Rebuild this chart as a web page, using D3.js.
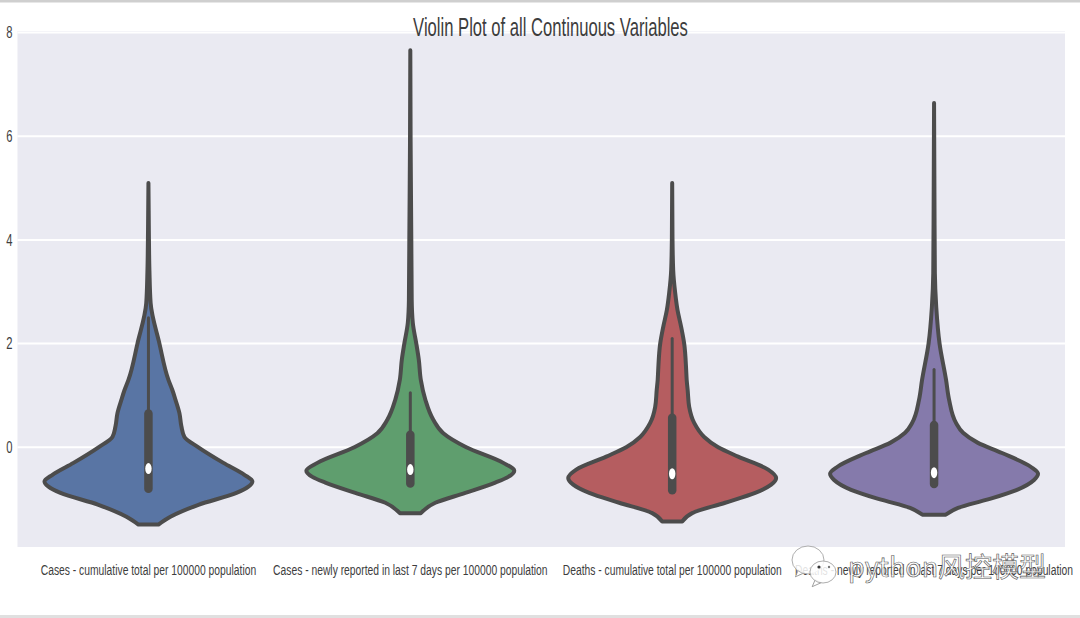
<!DOCTYPE html>
<html>
<head>
<meta charset="utf-8">
<script src="https://cdn.jsdelivr.net/npm/d3@7"></script>
<style>
  html, body { margin: 0; padding: 0; background: #fff; overflow: hidden; }
  svg { display: block; font-family: "Liberation Sans", Arial, sans-serif; }
</style>
</head>
<body>
<script>
const categories = [
  'Cases - cumulative total per 100000 population',
  'Cases - newly reported in last 7 days per 100000 population',
  'Deaths - cumulative total per 100000 population',
  'Deaths - newly reported in last 7 days per 100000 population'
]
const yTicks = [0, 2, 4, 6, 8]
const fills = ['#5975a4', '#5f9e6e', '#b55d60', '#857aab']

// violin outlines: value, and half width of the density
const casesTotalV = [-1.49, -1.34, -1.11, -0.88, -0.76, -0.66, -0.53, -0.30, 0, 0.20, 0.40, 0.66, 0.92, 1.1, 1.3, 2.0, 2.78, 3.4, 4.2, 5.1]
const casesTotalW = [10, 22, 50, 88, 100, 104, 96, 75, 50, 36, 33, 31, 27, 24, 20, 11, 2.2, 1, 0.4, 0]
const casesWeekV = [-1.27, -1.07, -0.88, -0.68, -0.57, -0.45, -0.30, 0, 0.27, 0.53, 0.92, 1.3, 1.69, 2.0, 2.4, 2.84, 4.0, 5.9, 7.66]
const casesWeekW = [10.5, 25, 55, 85, 98, 104, 93, 56, 33, 23, 15, 10.5, 8.5, 6, 2.5, 1.4, 1, 0.3, 0]
const deathsTotalV = [-1.43, -1.27, -1.07, -0.88, -0.72, -0.59, -0.43, -0.18, 0, 0.20, 0.47, 0.78, 1.1, 1.3, 1.49, 2.0, 2.32, 2.65, 2.98, 3.42, 4.05, 5.1]
const deathsTotalW = [10, 20, 53, 83, 99, 104, 96, 66, 46, 32, 22, 17, 15.5, 14.5, 14, 12, 9, 5.3, 3, 1, 0.3, 0]
const deathsWeekV = [-1.3, -1.17, -1.01, -0.82, -0.63, -0.51, -0.38, -0.11, 0.09, 0.28, 0.47, 0.92, 1.3, 2.0, 2.7, 3.36, 4.3, 6.64]
const deathsWeekW = [11.7, 24, 53, 83, 100, 104, 97, 68, 43.5, 29, 22, 15, 12, 5.5, 2.2, 0.8, 0.5, 0]

const densityV = [casesTotalV, casesWeekV, deathsTotalV, deathsWeekV]
const densityW = [casesTotalW, casesWeekW, deathsTotalW, deathsWeekW]

const whiskerTop = [2.5, 1.05, 2.1, 1.5]
const q3 = [0.65, 0.24, 0.57, 0.43]
const q1 = [-0.8, -0.7, -0.83, -0.71]
const medians = [-0.41, -0.43, -0.51, -0.49]

const width = 1080
const height = 618
const margin = { left: 17.5, top: 31, right: 15, bottom: 71 }
const lineColor = '#4c4c4c'
const textColor = '#3d3d3d'

const svg = d3.select('body').append('svg')
  .attr('width', width)
  .attr('height', height)

const xScale = d3.scaleBand()
  .domain(categories)
  .range([margin.left, width - margin.right])

const yScale = d3.scaleLinear()
  .domain([-1.923, 8.03])
  .range([height - margin.bottom, margin.top])

const wScale = d3.scaleLinear()
  .domain([0, 104])
  .range([0, xScale.bandwidth() * 0.397])

// page edges of the screenshot
svg.append('rect').attr('width', width).attr('height', 2.5).attr('fill', '#cfcfcf')
svg.append('rect').attr('y', height - 3).attr('width', width).attr('height', 3).attr('fill', '#e0e0e0')

// Plot background
svg.append('rect')
  .attr('x', margin.left)
  .attr('y', margin.top)
  .attr('width', width - margin.left - margin.right)
  .attr('height', height - margin.top - margin.bottom)
  .attr('fill', '#eaeaf2')

// Gridlines, then the y axis without its line
svg.append('g')
  .selectAll('line')
  .data(yTicks)
  .enter()
  .append('line')
    .attr('x1', margin.left)
    .attr('x2', width - margin.right)
    .attr('y1', d => yScale(d))
    .attr('y2', d => yScale(d))
    .attr('stroke', '#fff')
    .attr('stroke-width', 2)

// Squeeze text horizontally, the picture is stretched
const squeeze = (sel, k) => sel.each(function() {
  this.setAttribute('textLength', this.getComputedTextLength() * k)
  this.setAttribute('lengthAdjust', 'spacingAndGlyphs')
})

const yAxis = svg.append('g')
  .attr('transform', `translate(${margin.left},0)`)
  .call(d3.axisLeft(yScale).tickValues(yTicks).tickSize(0).tickPadding(5))
yAxis.select('.domain').remove()
yAxis.selectAll('text')
  .attr('font-size', 16.5)
  .attr('font-family', '"Liberation Sans", Arial, sans-serif')
  .attr('fill', textColor)
  .call(squeeze, 0.68)

const xAxis = svg.append('g')
  .attr('transform', `translate(0,${height - margin.bottom})`)
  .call(d3.axisBottom(xScale).tickSize(0).tickPadding(17))
xAxis.select('.domain').remove()
xAxis.selectAll('text')
  .attr('font-size', 15.5)
  .attr('font-family', '"Liberation Sans", Arial, sans-serif')
  .attr('fill', textColor)
  .call(squeeze, 0.665)

// Violins
const area = d3.area()
  .x0(d => -wScale(d.w))
  .x1(d => wScale(d.w))
  .y(d => yScale(d.v))
  .curve(d3.curveMonotoneY)

categories.forEach((category, i) => {
  const g = svg.append('g')
    .attr('transform', `translate(${xScale(category) + xScale.bandwidth() / 2},0)`)
  const outline = densityV[i].map((v, j) => ({ v, w: densityW[i][j] }))

  g.append('path')
    .attr('d', area(outline))
    .attr('fill', fills[i])
    .attr('stroke', lineColor)
    .attr('stroke-width', 4)
    .attr('stroke-linejoin', 'round')

  g.append('line')
    .attr('y1', yScale(whiskerTop[i]))
    .attr('y2', yScale(q3[i]))
    .attr('stroke', lineColor)
    .attr('stroke-width', 3)
    .attr('stroke-linecap', 'round')

  g.append('line')
    .attr('y1', yScale(q3[i]))
    .attr('y2', yScale(q1[i]))
    .attr('stroke', lineColor)
    .attr('stroke-width', 8.5)
    .attr('stroke-linecap', 'round')

  g.append('ellipse')
    .attr('cy', yScale(medians[i]))
    .attr('rx', 3.2)
    .attr('ry', 5.5)
    .attr('fill', '#fff')
})

// Title
svg.append('text')
  .attr('x', 550.5)
  .attr('y', 36)
  .attr('text-anchor', 'middle')
  .attr('font-size', 25)
  .attr('fill', textColor)
  .text('Violin Plot of all Continuous Variables')
  .call(squeeze, 0.665)

// Watermark over the last label
const mark = svg.append('g')
const bubble = (cx, cy, rx, ry) => {
  mark.append('path')
    .attr('d', `M${cx - rx * 0.6},${cy + ry * 0.7} l-3,7 l9,-4 Z`)
    .attr('fill', '#fff').attr('stroke', '#888').attr('stroke-width', 0.8)
  mark.append('ellipse')
    .attr('cx', cx).attr('cy', cy).attr('rx', rx).attr('ry', ry)
    .attr('fill', '#fff').attr('fill-opacity', 0.85)
    .attr('stroke', '#999').attr('stroke-width', 0.8)
}
bubble(808, 560, 16, 14)
bubble(823, 572, 13, 11)
mark.append('circle').attr('cx', 819).attr('cy', 567).attr('r', 1.6).attr('fill', '#333')
mark.append('circle').attr('cx', 829).attr('cy', 567).attr('r', 1.2).attr('fill', '#777')
mark.append('text')
  .attr('x', 848)
  .attr('y', 577)
  .attr('font-size', 27)
  .attr('font-family', '"Noto Sans CJK SC", sans-serif')
  .attr('fill', '#fff')
  .attr('fill-opacity', 0.75)
  .attr('stroke', '#555')
  .attr('stroke-width', 0.6)
  .text('python风控模型')
</script>
</body>
</html>
